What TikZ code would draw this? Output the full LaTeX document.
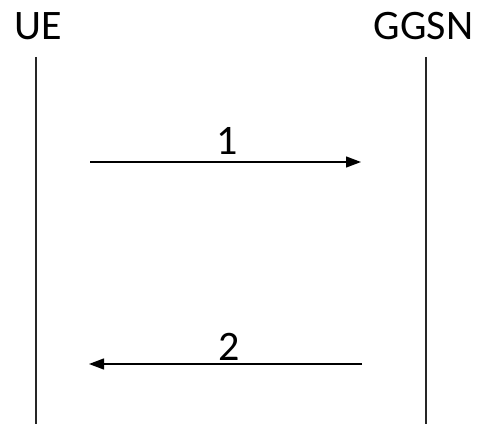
\documentclass[tikz,border=0pt]{standalone}
\usepackage{fontspec}
\setmainfont{Carlito}
\usetikzlibrary{arrows.meta}
\begin{document}
\begin{tikzpicture}[x=1pt,y=1pt,
  entity/.style={anchor=base,inner sep=0pt,font=\fontsize{42}{42}\selectfont},
  msglabel/.style={anchor=base,inner sep=0pt,font=\fontsize{42}{42}\selectfont},
  lifeline/.style={line width=1.4pt,black!85},
  msg/.style={line width=1.3pt,-{Triangle[length=15pt,width=11pt]}}]
\useasboundingbox (0,0) rectangle (482,424);
% participants
\node[entity] (ue) at (38.5,384) {UE};
\node[entity] (ggsn) at (423.5,384) {GGSN};
% lifelines
\coordinate (ueTop) at (36,367);
\coordinate (ueBot) at (36,0);
\coordinate (gTop) at (426,367);
\coordinate (gBot) at (426,0);
\draw[lifeline] (ueTop) -- (ueBot);
\draw[lifeline] (gTop) -- (gBot);
% message 1
\coordinate (m1a) at (90,262);
\coordinate (m1b) at (361,262);
\draw[msg] (m1a) -- (m1b);
\node[msglabel] (l1) at (227,270) {1};
% message 2
\coordinate (m2a) at (362,60);
\coordinate (m2b) at (89,60);
\draw[msg] (m2a) -- (m2b);
\node[msglabel] (l2) at (229,64) {2};
\end{tikzpicture}
\end{document}
